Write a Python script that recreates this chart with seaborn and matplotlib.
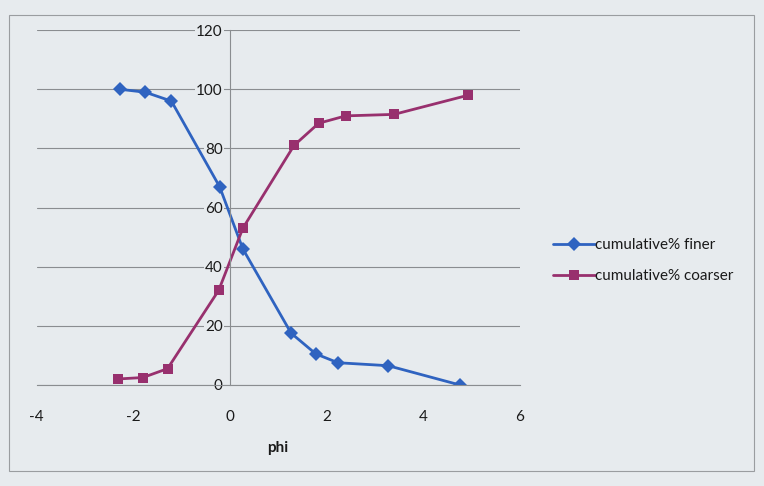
import pandas as pd
import matplotlib.pyplot as plt
import seaborn as sns
from matplotlib.patches import Rectangle

# Values
phi_finer = [-2.28, -1.75, -1.21, -0.21, 0.27, 1.27, 1.78, 2.24, 3.28, 4.76]
finer = [100, 99, 96, 67, 46, 17.5, 10.5, 7.5, 6.5, 0]
phi_coarser = [-2.32, -1.80, -1.29, -0.23, 0.27, 1.33, 1.84, 2.40, 3.40, 4.94]
coarser = [2, 2.5, 5.5, 32, 53, 81, 88.5, 91, 91.5, 98]

bg = '#e7ebee'
blue = '#2f63c0'
magenta = '#98306e'

sns.set_style('white')
plt.rcParams['font.family'] = ['Lato', 'DejaVu Sans']
plt.rcParams['axes.unicode_minus'] = False

df = pd.concat([
    pd.DataFrame({'phi': phi_finer, 'pct': finer, 'series': 'cumulative% finer'}),
    pd.DataFrame({'phi': phi_coarser, 'pct': coarser, 'series': 'cumulative% coarser'}),
])

fig = plt.figure(figsize=(7.64, 4.86), dpi=100, facecolor=bg)
ax = fig.add_axes([0.048, 0.208, 0.632, 0.730])
ax.set_facecolor(bg)

sns.lineplot(data=df, x='phi', y='pct', hue='series', style='series',
             markers={'cumulative% finer': 'D', 'cumulative% coarser': 's'},
             dashes=False, sort=False, palette=[blue, magenta],
             linewidth=2.0, markersize=7, markeredgewidth=0, ax=ax)

ax.set_xlim(-4, 6)
ax.set_ylim(0, 120)
ax.set_xticks([-4, -2, 0, 2, 4, 6])
ax.set_yticks(range(0, 121, 20))
ax.yaxis.grid(True, color='#8a8d90', linewidth=0.8)
ax.set_axisbelow(True)

for s in ['top', 'right']:
    ax.spines[s].set_visible(False)
ax.spines['left'].set_position(('data', 0))
ax.spines['left'].set_color('#8a8d90')
ax.spines['bottom'].set_color('#8a8d90')
ax.tick_params(axis='x', direction='out', length=4, color='#8a8d90',
               labelsize=11, labelcolor='#1a1a1a', pad=14)
ax.tick_params(axis='y', length=0, labelsize=11, labelcolor='#1a1a1a', pad=5)
for lbl in ax.get_yticklabels():
    lbl.set_bbox(dict(facecolor=bg, edgecolor='none', pad=0.5))

ax.set_xlabel('phi', fontsize=11, fontweight='bold', labelpad=12, color='#1a1a1a')
ax.set_ylabel('')

ax.legend(loc='center left', bbox_to_anchor=(1.04, 0.35), frameon=False,
          fontsize=11, handlelength=2.8, handletextpad=0.0, labelspacing=1.1,
          labelcolor='#1a1a1a')

fig.patches.append(Rectangle((0.012, 0.03), 0.975, 0.94, transform=fig.transFigure,
                             fill=False, edgecolor='#9a9da0', linewidth=0.8))

plt.savefig('out.png', dpi=100, facecolor=bg)
